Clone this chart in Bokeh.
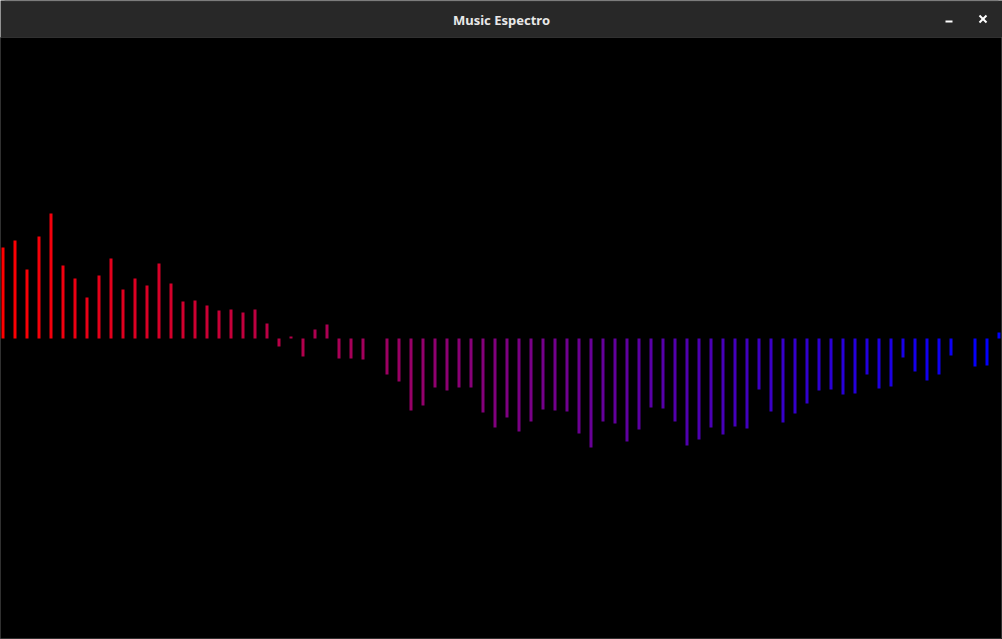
from bokeh.plotting import figure
from bokeh.layouts import column
from bokeh.models import Range1d, ColumnDataSource
from bokeh.core.properties import value
from bokeh.embed import file_html
from bokeh.resources import INLINE

# ---- data ----
title_text = "Music Espectro"
bands = list(range(84))
amplitudes = [91, 98, 69, 102, 125, 73, 60, 41, 63, 80, 49, 60, 53, 75, 55, 37,
              38, 33, 28, 29, 26, 29, 15, -8, 2, -18, 9, 14, -20, -20, -21, 0,
              -36, -43, -72, -67, -49, -52, -49, -49, -74, -89, -79, -93, -83,
              -71, -72, -73, -95, -109, -83, -85, -103, -91, -69, -70, -83,
              -107, -101, -89, -96, -88, -90, -51, -73, -84, -75, -65, -52,
              -51, -56, -55, -36, -50, -48, -19, -33, -42, -36, -17, 0, -28,
              -27, 6]

W = 1002
HEAD_H = 37
MAIN_H = 639 - HEAD_H

# ---- header (window title bar) ----
head = figure(width=W, height=HEAD_H, x_range=Range1d(0, W), y_range=Range1d(HEAD_H, 0),
              x_axis_type=None, y_axis_type=None, toolbar_location=None,
              output_backend="svg", min_border=0)
head.background_fill_color = "#282828"
head.border_fill_color = "#282828"
head.outline_line_color = None
head.xgrid.visible = False
head.ygrid.visible = False
head.segment(x0=[4], y0=[0.5], x1=[W - 4], y1=[0.5], line_color="#3a3a3a", line_width=1)
head.text(x=[W / 2], y=[19.5], text=[title_text], text_align="center",
          text_baseline="middle", text_color="#e8e8e8",
          text_font=value("Noto Sans"), text_font_size="13px", text_font_style="bold")
head.quad(left=[945], right=[952], top=[20], bottom=[22], fill_color="#ffffff", line_color=None)
head.segment(x0=[979, 986], y0=[15, 15], x1=[986, 979], y1=[22, 22],
             line_color="#ffffff", line_width=2)

# ---- spectrum ----
p = figure(width=W, height=MAIN_H,
           x_range=Range1d(-2.5 / 12, -2.5 / 12 + W / 12),
           y_range=Range1d(-MAIN_H / 2, MAIN_H / 2),
           x_axis_type=None, y_axis_type=None, toolbar_location=None,
           output_backend="svg", min_border=0)
p.background_fill_color = "#000000"
p.border_fill_color = "#000000"
p.outline_line_color = "#303030"
p.xgrid.visible = False
p.ygrid.visible = False

n = len(bands)
colors = []
for i in bands:
    t = i / (n - 1)
    colors.append("#%02x%02x%02x" % (round(255 * (1 - t)), 0, round(255 * t)))

src = ColumnDataSource(dict(x=bands, top=amplitudes, color=colors))
p.vbar(x="x", top="top", bottom=0, width=0.25, source=src,
       fill_color="color", line_color=None)

layout = column(head, p, spacing=0)
open("out.html", "w").write(file_html(layout, INLINE))
